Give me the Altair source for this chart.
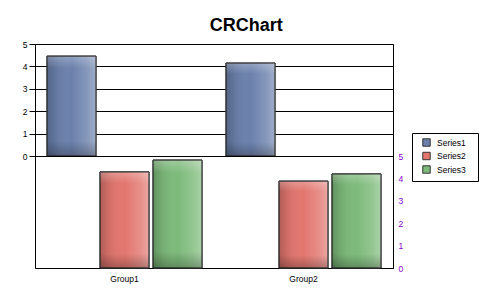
import altair as alt
import pandas as pd

groups = ["Group1", "Group2"]
series_names = ["Series1", "Series2", "Series3"]
series1 = [4.46, 4.15]
series2 = [4.29, 3.88]
series3 = [4.82, 4.20]
colors = ["#6b81ac", "#e2766f", "#7dba7a"]
y_ticks = [0, 1, 2, 3, 4, 5]

rows = []
for name, vals in zip(series_names, [series1, series2, series3]):
    for g, v in zip(groups, vals):
        rows.append({"group": g, "series": name, "value": v})
df = pd.DataFrame(rows)

FONT = "Liberation Sans"
W, H = 358, 112

x_enc = alt.X("group:N", sort=groups, scale=alt.Scale(paddingInner=0, paddingOuter=0))
xo_enc = alt.XOffset("series:N", sort=series_names,
                     scale=alt.Scale(domain=series_names, paddingInner=0.075, paddingOuter=0.226))
color_enc = alt.Color("series:N", sort=series_names,
                      scale=alt.Scale(domain=series_names, range=colors),
                      legend=alt.Legend(title=None, orient="none", legendX=377, legendY=89,
                                        symbolType="square", symbolSize=55, symbolOffset=5,
                                        symbolStrokeColor="#333", symbolStrokeWidth=1,
                                        labelFont=FONT, labelFontSize=8.5, labelColor="black",
                                        labelOffset=6,
                                        labelExpr="datum.label + '\u2800'",
                                        strokeColor="black", padding=5, rowPadding=0.5,
                                        fillColor="white", offset=0))

hgrad = alt.Gradient(gradient="linear", x1=0, x2=1, y1=0, y2=0, stops=[
    alt.GradientStop(color="rgba(0,0,0,0.22)", offset=0),
    alt.GradientStop(color="rgba(0,0,0,0.08)", offset=0.18),
    alt.GradientStop(color="rgba(255,255,255,0.0)", offset=0.5),
    alt.GradientStop(color="rgba(255,255,255,0.18)", offset=0.82),
    alt.GradientStop(color="rgba(255,255,255,0.35)", offset=1),
])
vgrad = alt.Gradient(gradient="linear", x1=0, x2=0, y1=0, y2=1, stops=[
    alt.GradientStop(color="rgba(255,255,255,0.25)", offset=0),
    alt.GradientStop(color="rgba(255,255,255,0.0)", offset=0.12),
    alt.GradientStop(color="rgba(0,0,0,0.0)", offset=0.85),
    alt.GradientStop(color="rgba(0,0,0,0.25)", offset=1),
])


def panel(data, y_axis, x_axis):
    y_enc = alt.Y("value:Q", scale=alt.Scale(domain=[0, 5], nice=False), axis=y_axis)
    base = alt.Chart(data).encode(x=x_enc.axis(x_axis), xOffset=xo_enc, y=y_enc)
    bars = base.mark_bar(stroke="#333333", strokeWidth=1).encode(color=color_enc)
    ov1 = base.mark_bar(color=hgrad)
    ov2 = base.mark_bar(color=vgrad, stroke="#333333", strokeWidth=1, fillOpacity=1)
    return alt.layer(bars, ov1, ov2).properties(width=W, height=H)


top_axis = alt.Axis(title=None, values=y_ticks, grid=True, gridColor="black", gridOpacity=1,
                    gridWidth=1, tickColor="black", tickSize=6, domainColor="black",
                    labelFont=FONT, labelFontSize=8.5, labelColor="black", labelPadding=2)
bottom_axis = alt.Axis(title=None, orient="right", values=y_ticks, grid=False, ticks=False,
                       domainColor="black", labelFont=FONT, labelFontSize=8.5,
                       labelColor="#8800cc", labelPadding=5)
x_axis_bottom = alt.Axis(title=None, labelAngle=0, ticks=False, domainColor="black",
                         labelFont=FONT, labelFontSize=8.5, labelColor="black", labelPadding=6)

top = panel(df[df["series"] == "Series1"], top_axis, None)
bottom = panel(df[df["series"] != "Series1"], bottom_axis, x_axis_bottom)

chart = alt.vconcat(top, bottom, spacing=0, bounds="flush").properties(
    title=alt.Title("CRChart", font=FONT, fontSize=18, fontWeight="bold", color="black",
                    anchor="middle", offset=5, dx=-4),
    background="white",
    padding={"left": 13, "top": 8, "right": 2, "bottom": 5},
).configure_view(stroke="black", strokeWidth=1).configure_concat(spacing=0)

chart.save("out.html", embed_options={"renderer": "svg", "actions": False})
